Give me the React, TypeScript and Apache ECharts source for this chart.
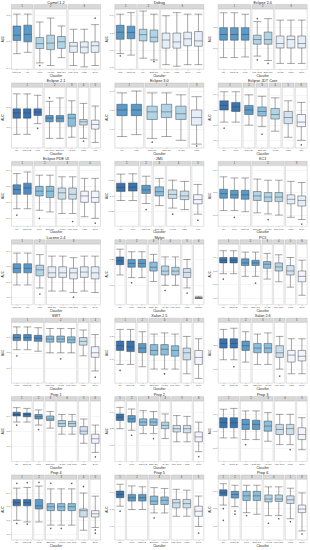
import React, { useEffect, useRef } from "react";
import * as echarts from "echarts";

const panelTitles = [
  "Camel 1.2", "Debug", "Eclipse 2.0",
  "Eclipse 2.1", "Eclipse 3.0", "Eclipse JDT Core",
  "Eclipse PDE UI", "JM1", "KC1",
  "Lucene 2.4", "Mylyn", "PC5",
  "SWT", "Xalan 2.5", "Xalan 2.6",
  "Prop 1", "Prop 2", "Prop 3",
  "Prop 4", "Prop 5", "Prop 6",
];

const facetSizes: number[][] = [
  [2, 3, 3], [2, 2, 4], [3, 2, 3],
  [3, 2, 1, 1, 1], [2, 3, 1], [2, 1, 1, 1, 1, 1],
  [2, 2, 2, 2], [2, 1, 1, 2, 1], [3, 3, 2],
  [2, 1, 5], [1, 2, 1, 2, 1, 1], [2, 2, 1, 1, 1, 1],
  [3, 3, 1, 1], [2, 1, 3, 1, 1], [2, 1, 2, 1, 2],
  [2, 1, 1, 2, 1, 1], [1, 1, 2, 1, 2, 1], [2, 2, 1, 2, 1],
  [2, 1, 3, 1, 1], [1, 2, 2, 2, 1], [1, 1, 2, 2, 1, 1],
];

const classifiers: string[][] = [
  ["Naive B.", "RF", "LMT", "Ad+DT", "Bag+DT", "Log. Reg.", "KNN", "SVM"],
  ["LMT", "Naive B.", "RF", "Bag+DT", "Ad+DT", "KNN", "SVM", "J48"],
  ["RF", "Naive B.", "LMT", "Log. Reg.", "Bag+DT", "Ad+DT", "KNN", "SVM"],
  ["RF", "Naive B.", "LMT", "Log. Reg.", "Bag+DT", "Ad+DT", "KNN", "J48"],
  ["RF", "LMT", "Naive B.", "Bag+DT", "Ad+DT", "KNN"],
  ["RF", "LMT", "Naive B.", "Bag+DT", "Ad+DT", "KNN", "J48"],
  ["RF", "Naive B.", "LMT", "Bag+DT", "Ad+DT", "Log. Reg.", "KNN", "SVM"],
  ["RF", "LMT", "Naive B.", "Bag+DT", "Ad+DT", "KNN", "J48"],
  ["RF", "LMT", "Naive B.", "Bag+DT", "Ad+DT", "Log. Reg.", "KNN", "SVM"],
  ["Naive B.", "RF", "LMT", "Bag+DT", "Ad+DT", "Log. Reg.", "KNN", "SVM"],
  ["RF", "LMT", "Naive B.", "Bag+DT", "Ad+DT", "Log. Reg.", "KNN", "Ripper"],
  ["RF", "Naive B.", "LMT", "Bag+DT", "Ad+DT", "Log. Reg.", "KNN", "SVM"],
  ["LMT", "Naive B.", "RF", "Bag+DT", "Ad+DT", "Log. Reg.", "KNN", "SVM"],
  ["RF", "Naive B.", "LMT", "Bag+DT", "Ad+DT", "Log. Reg.", "KNN", "SVM"],
  ["RF", "Naive B.", "LMT", "Bag+DT", "Ad+DT", "Log. Reg.", "KNN", "SVM"],
  ["RF", "Naive B.", "LMT", "Bag+DT", "Ad+DT", "Log. Reg.", "KNN", "SVM"],
  ["RF", "LMT", "Naive B.", "Bag+DT", "Ad+DT", "Log. Reg.", "KNN", "SVM"],
  ["RF", "Naive B.", "LMT", "Bag+DT", "Ad+DT", "Log. Reg.", "KNN", "SVM"],
  ["RF", "Naive B.", "LMT", "Bag+DT", "Ad+DT", "Log. Reg.", "KNN", "SVM"],
  ["RF", "LMT", "Naive B.", "Bag+DT", "Ad+DT", "Log. Reg.", "KNN", "SVM"],
  ["RF", "Naive B.", "LMT", "Bag+DT", "Ad+DT", "Log. Reg.", "KNN", "SVM"],
];

const yRanges: number[][] = [
  [0.39, 0.85], [0.59, 0.94], [0.6, 0.89],
  [0.6, 0.9], [0.6, 0.92], [0.55, 0.95],
  [0.55, 0.93], [0.6, 0.8], [0.65, 0.92],
  [0.55, 0.95], [0.45, 0.92], [0.55, 1.0],
  [0.6, 1.0], [0.6, 0.86], [0.64, 0.9],
  [0.6, 1.0], [0.6, 0.97], [0.62, 0.98],
  [0.56, 1.0], [0.62, 0.98], [0.62, 0.97],
];

// [lower whisker, Q1, median, Q3, upper whisker]
const boxStats: number[][][] = [
  [[0.51, 0.61, 0.65, 0.72, 0.81], [0.52, 0.6, 0.656, 0.726, 0.81], [0.44, 0.549, 0.586, 0.633, 0.75], [0.42, 0.54, 0.59, 0.65, 0.78], [0.48, 0.55, 0.6, 0.64, 0.72], [0.42, 0.52, 0.567, 0.595, 0.695], [0.41, 0.515, 0.56, 0.6, 0.695], [0.42, 0.52, 0.57, 0.6, 0.73]],
  [[0.682, 0.764, 0.805, 0.845, 0.909], [0.673, 0.767, 0.804, 0.84, 0.918], [0.655, 0.755, 0.791, 0.822, 0.927], [0.645, 0.749, 0.776, 0.818, 0.909], [0.618, 0.713, 0.76, 0.8, 0.9], [0.609, 0.713, 0.749, 0.8, 0.918], [0.618, 0.727, 0.767, 0.805, 0.909], [0.618, 0.724, 0.755, 0.809, 0.909]],
  [[0.657, 0.74, 0.767, 0.8, 0.871], [0.657, 0.74, 0.767, 0.8, 0.871], [0.66, 0.74, 0.767, 0.8, 0.864], [0.664, 0.721, 0.743, 0.764, 0.829], [0.643, 0.721, 0.743, 0.779, 0.843], [0.629, 0.703, 0.724, 0.76, 0.836], [0.629, 0.703, 0.743, 0.76, 0.836], [0.629, 0.703, 0.724, 0.76, 0.836]],
  [[0.667, 0.747, 0.773, 0.793, 0.867], [0.667, 0.747, 0.773, 0.793, 0.867], [0.72, 0.76, 0.777, 0.793, 0.86], [0.647, 0.729, 0.747, 0.76, 0.83], [0.647, 0.729, 0.747, 0.76, 0.847], [0.653, 0.707, 0.747, 0.767, 0.833], [0.647, 0.713, 0.729, 0.74, 0.82], [0.627, 0.693, 0.716, 0.737, 0.807]],
  [[0.66, 0.77, 0.8, 0.83, 0.89], [0.67, 0.77, 0.8, 0.83, 0.9], [0.65, 0.75, 0.79, 0.82, 0.89], [0.66, 0.76, 0.79, 0.83, 0.89], [0.64, 0.75, 0.78, 0.82, 0.88], [0.62, 0.72, 0.76, 0.8, 0.87]],
  [[0.72, 0.8, 0.83, 0.86, 0.92], [0.72, 0.79, 0.82, 0.85, 0.92], [0.7, 0.77, 0.8, 0.83, 0.9], [0.69, 0.76, 0.79, 0.82, 0.89], [0.66, 0.74, 0.77, 0.81, 0.88], [0.62, 0.71, 0.75, 0.79, 0.86], [0.6, 0.69, 0.72, 0.77, 0.85]],
  [[0.66, 0.75, 0.78, 0.81, 0.88], [0.66, 0.75, 0.79, 0.82, 0.89], [0.65, 0.74, 0.77, 0.8, 0.87], [0.64, 0.73, 0.77, 0.8, 0.87], [0.63, 0.72, 0.76, 0.79, 0.86], [0.63, 0.72, 0.75, 0.79, 0.86], [0.61, 0.7, 0.74, 0.77, 0.85], [0.6, 0.7, 0.73, 0.77, 0.85]],
  [[0.685, 0.715, 0.728, 0.742, 0.772], [0.685, 0.716, 0.729, 0.743, 0.773], [0.675, 0.708, 0.72, 0.735, 0.765], [0.668, 0.7, 0.714, 0.73, 0.758], [0.66, 0.692, 0.705, 0.72, 0.752], [0.655, 0.688, 0.7, 0.716, 0.748], [0.64, 0.674, 0.688, 0.704, 0.738]],
  [[0.72, 0.775, 0.795, 0.815, 0.87], [0.72, 0.775, 0.79, 0.81, 0.865], [0.715, 0.77, 0.79, 0.81, 0.865], [0.71, 0.765, 0.785, 0.805, 0.86], [0.705, 0.76, 0.78, 0.8, 0.855], [0.7, 0.76, 0.78, 0.8, 0.855], [0.69, 0.75, 0.77, 0.79, 0.85], [0.68, 0.74, 0.765, 0.785, 0.845]],
  [[0.68, 0.76, 0.79, 0.82, 0.89], [0.68, 0.76, 0.79, 0.82, 0.89], [0.66, 0.74, 0.78, 0.81, 0.88], [0.64, 0.73, 0.76, 0.8, 0.87], [0.64, 0.73, 0.76, 0.8, 0.87], [0.63, 0.72, 0.76, 0.79, 0.86], [0.64, 0.73, 0.765, 0.8, 0.87], [0.63, 0.72, 0.76, 0.8, 0.87]],
  [[0.68, 0.76, 0.79, 0.82, 0.88], [0.66, 0.74, 0.77, 0.8, 0.86], [0.66, 0.74, 0.77, 0.8, 0.86], [0.63, 0.71, 0.74, 0.78, 0.84], [0.6, 0.68, 0.71, 0.75, 0.82], [0.6, 0.68, 0.71, 0.74, 0.82], [0.58, 0.66, 0.7, 0.73, 0.8], [0.5, 0.5, 0.5, 0.505, 0.515]],
  [[0.78, 0.86, 0.88, 0.9, 0.95], [0.78, 0.86, 0.88, 0.9, 0.95], [0.76, 0.84, 0.86, 0.89, 0.94], [0.76, 0.84, 0.86, 0.88, 0.94], [0.74, 0.82, 0.85, 0.87, 0.93], [0.72, 0.8, 0.83, 0.86, 0.92], [0.68, 0.77, 0.8, 0.84, 0.9], [0.62, 0.72, 0.76, 0.8, 0.88]],
  [[0.82, 0.88, 0.9, 0.92, 0.97], [0.82, 0.88, 0.9, 0.92, 0.97], [0.81, 0.875, 0.895, 0.915, 0.965], [0.8, 0.87, 0.89, 0.91, 0.96], [0.8, 0.87, 0.89, 0.91, 0.96], [0.8, 0.865, 0.885, 0.905, 0.96], [0.78, 0.85, 0.875, 0.9, 0.95], [0.68, 0.77, 0.8, 0.84, 0.92]],
  [[0.68, 0.74, 0.76, 0.78, 0.83], [0.68, 0.735, 0.755, 0.78, 0.83], [0.67, 0.73, 0.75, 0.77, 0.82], [0.66, 0.72, 0.74, 0.765, 0.81], [0.66, 0.72, 0.745, 0.765, 0.815], [0.66, 0.715, 0.74, 0.76, 0.81], [0.64, 0.7, 0.73, 0.75, 0.8], [0.62, 0.68, 0.71, 0.74, 0.79]],
  [[0.74, 0.79, 0.81, 0.83, 0.87], [0.74, 0.79, 0.81, 0.83, 0.875], [0.73, 0.78, 0.8, 0.82, 0.86], [0.72, 0.77, 0.79, 0.81, 0.85], [0.72, 0.77, 0.79, 0.81, 0.855], [0.7, 0.75, 0.77, 0.8, 0.84], [0.68, 0.73, 0.76, 0.78, 0.83], [0.68, 0.735, 0.755, 0.78, 0.83]],
  [[0.86, 0.9, 0.91, 0.925, 0.955], [0.86, 0.895, 0.91, 0.92, 0.95], [0.84, 0.88, 0.895, 0.91, 0.94], [0.82, 0.87, 0.88, 0.9, 0.93], [0.78, 0.83, 0.85, 0.87, 0.91], [0.78, 0.83, 0.85, 0.865, 0.91], [0.72, 0.78, 0.8, 0.83, 0.88], [0.66, 0.72, 0.75, 0.78, 0.84]],
  [[0.8, 0.85, 0.87, 0.89, 0.93], [0.79, 0.84, 0.86, 0.88, 0.92], [0.77, 0.82, 0.84, 0.86, 0.91], [0.77, 0.82, 0.84, 0.86, 0.905], [0.74, 0.8, 0.82, 0.84, 0.89], [0.72, 0.78, 0.8, 0.82, 0.88], [0.72, 0.775, 0.8, 0.82, 0.875], [0.66, 0.72, 0.75, 0.78, 0.84]],
  [[0.76, 0.82, 0.85, 0.88, 0.93], [0.76, 0.82, 0.85, 0.88, 0.935], [0.75, 0.81, 0.84, 0.87, 0.92], [0.75, 0.81, 0.84, 0.865, 0.92], [0.74, 0.8, 0.83, 0.86, 0.91], [0.72, 0.78, 0.81, 0.84, 0.9], [0.72, 0.78, 0.815, 0.84, 0.9], [0.69, 0.75, 0.78, 0.82, 0.88]],
  [[0.702, 0.807, 0.83, 0.853, 0.935], [0.69, 0.807, 0.83, 0.853, 0.94], [0.69, 0.784, 0.807, 0.853, 0.95], [0.667, 0.772, 0.8, 0.823, 0.93], [0.667, 0.772, 0.8, 0.823, 0.93], [0.667, 0.772, 0.8, 0.823, 0.93], [0.63, 0.726, 0.772, 0.784, 0.9], [0.65, 0.726, 0.749, 0.772, 0.877]],
  [[0.82, 0.87, 0.89, 0.91, 0.95], [0.8, 0.85, 0.87, 0.89, 0.94], [0.8, 0.85, 0.87, 0.89, 0.935], [0.78, 0.83, 0.85, 0.88, 0.93], [0.78, 0.83, 0.855, 0.875, 0.925], [0.76, 0.81, 0.84, 0.86, 0.92], [0.76, 0.81, 0.835, 0.86, 0.915], [0.7, 0.76, 0.79, 0.82, 0.88]],
  [[0.821, 0.874, 0.891, 0.909, 0.944], [0.812, 0.861, 0.882, 0.9, 0.935], [0.777, 0.847, 0.874, 0.9, 0.935], [0.768, 0.847, 0.874, 0.9, 0.935], [0.76, 0.839, 0.856, 0.879, 0.926], [0.76, 0.842, 0.856, 0.879, 0.926], [0.742, 0.83, 0.851, 0.874, 0.918], [0.672, 0.777, 0.798, 0.821, 0.891]],
];

// [box index within panel, value]
const outliers: number[][][] = [
  [[2, 0.42], [7, 0.78]],
  [[0, 0.669], [3, 0.636]],
  [[3, 0.843], [3, 0.646], [4, 0.629]],
  [[2, 0.697], [3, 0.847], [6, 0.633]],
  [[2, 0.63], [5, 0.61]],
  [[0, 0.68], [3, 0.64], [6, 0.57]],
  [[0, 0.62], [2, 0.6], [5, 0.58], [7, 0.57]],
  [[2, 0.655], [4, 0.64], [6, 0.62]],
  [[1, 0.69], [4, 0.68], [7, 0.66]],
  [[2, 0.62], [5, 0.6]],
  [[1, 0.62], [4, 0.56], [6, 0.54]],
  [[0, 0.74], [3, 0.71]],
  [[0, 0.78], [4, 0.76], [7, 0.64]],
  [[0, 0.655], [4, 0.64]],
  [[1, 0.71], [5, 0.67]],
  [[0, 0.84], [2, 0.81], [7, 0.63]],
  [[1, 0.76], [3, 0.74], [7, 0.63]],
  [[2, 0.72], [6, 0.69]],
  [[0, 0.97], [0, 0.679], [1, 0.975], [1, 0.675], [2, 0.977], [3, 0.97], [3, 0.644], [4, 0.644], [5, 0.97], [6, 0.947], [7, 0.633], [7, 0.609]],
  [[0, 0.79], [3, 0.75], [7, 0.66]],
  [[0, 0.733], [0, 0.8], [1, 0.786], [1, 0.768], [2, 0.76], [4, 0.716], [5, 0.742], [6, 0.725], [7, 0.654]],
];

const BREWER: Record<number, string[]> = {
  3: ["#3182bd", "#9ecae1", "#deebf7"],
  4: ["#2171b5", "#6baed6", "#bdd7e7", "#eff3ff"],
  5: ["#08519c", "#3182bd", "#6baed6", "#bdd7e7", "#eff3ff"],
  6: ["#08519c", "#3182bd", "#6baed6", "#9ecae1", "#c6dbef", "#eff3ff"],
  7: ["#084594", "#2171b5", "#4292c6", "#6baed6", "#9ecae1", "#c6dbef", "#eff3ff"],
};

function blend(hex: string, a: number): string {
  const n = parseInt(hex.slice(1), 16);
  const r = (n >> 16) & 255, g = (n >> 8) & 255, b = n & 255;
  const f = (c: number) => Math.round(c * a + 255 * (1 - a)).toString(16).padStart(2, "0");
  return "#" + f(r) + f(g) + f(b);
}

const FONT = "Liberation Sans";

function buildOption() {
  const grids: any[] = [], xAxes: any[] = [], yAxes: any[] = [], series: any[] = [], graphics: any[] = [];
  const COL_W = 103.33, ROW_H = 78.4;
  panelTitles.forEach((title, p) => {
    const col = p % 3, row = Math.floor(p / 3);
    const x0 = col * COL_W, y0 = row * ROW_H;
    const plotL = x0 + 11.5, plotR = x0 + 100.5, plotT = y0 + 8.8, plotB = y0 + 69.5;
    const sizes = facetSizes[p];
    const N = sizes.reduce((a, b) => a + b, 0);
    const F = sizes.length;
    const gap = 1.3;
    const unit = (plotR - plotL - gap * (F - 1)) / N;
    const pal = (BREWER[F] || BREWER[3]).map((c) => blend(c, 0.8));
    let start = 0, left = plotL;
    sizes.forEach((n, f) => {
      const w = n * unit;
      const gi = grids.length;
      grids.push({ left, top: plotT, width: w, height: plotB - plotT, show: true, backgroundColor: "#ffffff", borderColor: "#c4c4c4", borderWidth: 0.5 });
      xAxes.push({
        type: "category", gridIndex: gi, data: classifiers[p].slice(start, start + n),
        axisLabel: { fontSize: 2.3, margin: 1.5, color: "#4d4d4d", interval: 0, fontFamily: FONT },
        axisTick: { show: true, length: 1, alignWithLabel: true, lineStyle: { color: "#8a8a8a", width: 0.4 } },
        axisLine: { show: false }, splitLine: { show: false },
      });
      yAxes.push({
        type: "value", gridIndex: gi, min: yRanges[p][0], max: yRanges[p][1], splitNumber: 3,
        axisLabel: { show: f === 0, fontSize: 2.5, margin: 1.5, color: "#4d4d4d", showMinLabel: false, showMaxLabel: false, fontFamily: FONT },
        axisTick: { show: f === 0, length: 1, lineStyle: { color: "#8a8a8a", width: 0.4 } },
        axisLine: { show: false },
        splitLine: { show: true, lineStyle: { color: "#ebebeb", width: 0.5 } },
      });
      series.push({
        type: "boxplot", xAxisIndex: gi, yAxisIndex: gi, silent: true,
        data: boxStats[p].slice(start, start + n),
        boxWidth: ["72%", "72%"],
        itemStyle: { color: pal[f], borderColor: "#3a3a3a", borderWidth: 0.45 },
      });
      const outs = outliers[p].filter((o) => o[0] >= start && o[0] < start + n).map((o) => [o[0] - start, o[1]]);
      if (outs.length) {
        series.push({ type: "scatter", xAxisIndex: gi, yAxisIndex: gi, silent: true, data: outs, symbolSize: 1.5, itemStyle: { color: "#333333" } });
      }
      graphics.push({ type: "rect", shape: { x: left, y: y0 + 4.6, width: w, height: 4.2 }, style: { fill: "#d9d9d9", stroke: "#b3b3b3", lineWidth: 0.4 } });
      graphics.push({ type: "text", x: left + w / 2, y: y0 + 6.7, style: { text: String(f + 1), fontSize: 2.6, fill: "#333333", fontFamily: FONT, textAlign: "center", textVerticalAlign: "middle" } });
      start += n;
      left += w + gap;
    });
    const cx = (plotL + plotR) / 2;
    graphics.push({ type: "text", x: cx, y: y0 + 2.5, style: { text: title, fontSize: 3.8, fill: "#222222", fontFamily: FONT, textAlign: "center", textVerticalAlign: "middle" } });
    graphics.push({ type: "text", x: cx, y: y0 + 75.3, style: { text: "Classifier", fontSize: 3, fill: "#222222", fontFamily: FONT, textAlign: "center", textVerticalAlign: "middle" } });
    graphics.push({ type: "text", x: x0 + 3, y: (plotT + plotB) / 2, rotation: Math.PI / 2, style: { text: "AUC", fontSize: 3, fill: "#222222", fontFamily: FONT, textAlign: "center", textVerticalAlign: "middle" } });
  });
  return {
    animation: false,
    backgroundColor: "#ffffff",
    grid: grids,
    xAxis: xAxes,
    yAxis: yAxes,
    series,
    graphic: graphics,
  };
}

export default function App() {
  const ref = useRef<HTMLDivElement>(null);
  useEffect(() => {
    document.body.style.margin = "0";
    if (!ref.current) return;
    const chart = echarts.init(ref.current, undefined, { renderer: "svg" });
    chart.setOption(buildOption());
    return () => chart.dispose();
  }, []);
  return <div ref={ref} style={{ width: 310, height: 550 }} />;
}
